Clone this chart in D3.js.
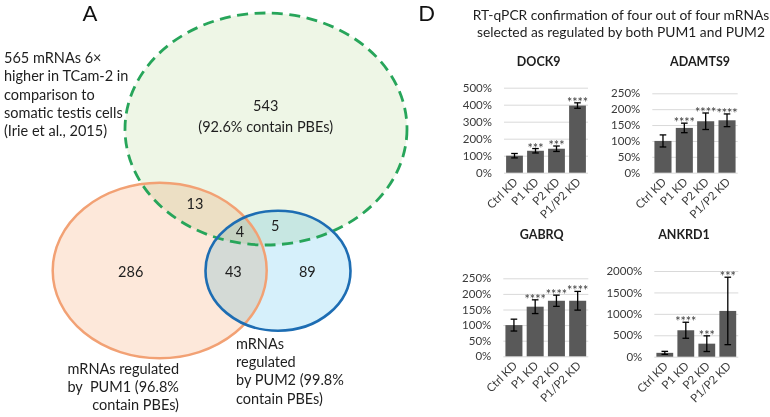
<!DOCTYPE html>
<html><head><meta charset="utf-8">
<script src="https://cdn.jsdelivr.net/npm/d3@7"></script>
<style>
html,body{margin:0;padding:0;background:#fff;}
svg{display:block;font-family:Lato,"Open Sans",sans-serif;}
</style></head>
<body>
<svg id="c" width="770" height="417"></svg>
<script>
// ---------- DATA ----------
const categories = ["Ctrl KD", "P1 KD", "P2 KD", "P1/P2 KD"];
const genes = ["DOCK9", "ADAMTS9", "GABRQ", "ANKRD1"];

const dock9Values = [100, 129, 141, 395];
const dock9Errors = [13, 13, 16, 16];
const dock9Stars = ["", "***", "***", "****"];
const dock9Ticks = [0, 100, 200, 300, 400, 500];

const adamts9Values = [100, 141, 162, 165];
const adamts9Errors = [19, 15, 26, 20];
const adamts9Stars = ["", "****", "****", "****"];
const adamts9Ticks = [0, 50, 100, 150, 200, 250];

const gabrqValues = [100, 159, 178, 178];
const gabrqErrors = [19, 22, 18, 30];
const gabrqStars = ["", "****", "****", "****"];
const gabrqTicks = [0, 50, 100, 150, 200, 250];

const ankrd1Values = [90, 617, 304, 1068];
const ankrd1Errors = [35, 187, 183, 787];
const ankrd1Stars = ["", "****", "***", "***"];
const ankrd1Ticks = [0, 500, 1000, 1500, 2000];

const vennSets = ["TCam-2 high", "PUM1", "PUM2"];
const vennCounts = ["543", "13", "4", "5", "286", "43", "89"];

const titleLines = ["RT-qPCR confirmation of four out of four mRNAs",
                    "selected as regulated by both PUM1 and PUM2"];

// ---------- LAYOUT ----------
const svg = d3.select("#c");
const txt = "#1e1e1e";

// Venn
const venn = svg.append("g");
const ellipses = [
  {cx: 266, cy: 129, rx: 141, ry: 116, fill: "#eef6e6", stroke: "#27a55a", dash: "11,6.5", w: 2.8},
  {cx: 159.7, cy: 270.5, rx: 107, ry: 87.8, fill: "#fde8da", stroke: "#f2a174", dash: null, w: 2.5},
  {cx: 278, cy: 270.7, rx: 72.5, ry: 60, fill: "#d6f0fb", stroke: "#1d6db3", dash: null, w: 2.6}
];
venn.selectAll("ellipse.f").data(ellipses).join("ellipse").attr("class", "f")
  .attr("cx", d => d.cx).attr("cy", d => d.cy).attr("rx", d => d.rx).attr("ry", d => d.ry)
  .attr("fill", d => d.fill).style("mix-blend-mode", "multiply");
const strokeOrder = [ellipses[1], ellipses[0], ellipses[2]];
venn.selectAll("ellipse.s").data(strokeOrder).join("ellipse").attr("class", "s")
  .attr("cx", d => d.cx).attr("cy", d => d.cy).attr("rx", d => d.rx).attr("ry", d => d.ry)
  .attr("fill", "none").attr("stroke", d => d.stroke).attr("stroke-width", d => d.w)
  .attr("stroke-dasharray", d => d.dash);

const vennPos = [[265.7, 106], [195, 204.3], [240, 231.7], [275.3, 226], [130.7, 272], [233.3, 272], [307.3, 272]];
venn.selectAll("text.n").data(vennCounts).join("text").attr("class", "n")
  .attr("x", (d, i) => vennPos[i][0]).attr("y", (d, i) => vennPos[i][1])
  .attr("dy", "0.35em").attr("text-anchor", "middle").attr("font-size", 14.5).attr("fill", txt).text(d => d);
venn.append("text").attr("x", 265.7).attr("y", 127.3).attr("dy", "0.35em").attr("text-anchor", "middle")
  .attr("font-size", 14.5).attr("fill", txt).text("(92.6% contain PBEs)");

function lines(g, arr, x, y0, step, anchor) {
  arr.forEach((s, i) => g.append("text").attr("x", x).attr("y", y0 + i * step).attr("dy", "0.35em")
    .attr("text-anchor", anchor).attr("font-size", 14.5).attr("fill", txt).attr("xml:space", "preserve").text(s));
}
lines(venn, ["565 mRNAs 6×", "higher in TCam-2 in", "comparison to", "somatic testis cells", "(Irie et al., 2015)"], 4, 58.3, 18.1, "start");
lines(venn, ["mRNAs regulated", "by  PUM1 (96.8%", "contain PBEs)"], 179, 369.3, 18, "end");
lines(venn, ["mRNAs", "regulated", "by PUM2 (99.8%", "contain PBEs)"], 236, 344, 18.2, "start");

svg.append("text").attr("x", 90).attr("y", 13.5).attr("dy", "0.35em").attr("text-anchor", "middle")
  .attr("font-size", 22).attr("fill", "#111").text("A");
svg.append("text").attr("x", 426.7).attr("y", 13.5).attr("dy", "0.35em").attr("text-anchor", "middle")
  .attr("font-size", 22).attr("fill", "#111").text("D");

// Title
titleLines.forEach((s, i) => svg.append("text").attr("x", 621).attr("y", 15 + i * 16.7).attr("dy", "0.35em")
  .attr("text-anchor", "middle").attr("font-size", 13.8).attr("fill", txt).text(s));

// Bar panels
const panels = [
  {gene: genes[0], values: dock9Values, errors: dock9Errors, stars: dock9Stars, ticks: dock9Ticks,
   x: [504, 588], y: [172.7, 87.7], titleX: 538.7, titleY: 61.7},
  {gene: genes[1], values: adamts9Values, errors: adamts9Errors, stars: adamts9Stars, ticks: adamts9Ticks,
   x: [652.3, 737.7], y: [172.7, 93.3], titleX: 700, titleY: 61.7},
  {gene: genes[2], values: gabrqValues, errors: gabrqErrors, stars: gabrqStars, ticks: gabrqTicks,
   x: [503.3, 588.3], y: [356.3, 278.3], titleX: 541.7, titleY: 235},
  {gene: genes[3], values: ankrd1Values, errors: ankrd1Errors, stars: ankrd1Stars, ticks: ankrd1Ticks,
   x: [654.3, 738.3], y: [356.7, 271], titleX: 684, titleY: 235}
];

panels.forEach(p => {
  const g = svg.append("g");
  const x = d3.scaleBand().domain(categories).range(p.x).paddingInner(0.2).paddingOuter(0.1);
  const y = d3.scaleLinear().domain([0, d3.max(p.ticks)]).range(p.y);
  const ax = g.append("g").attr("transform", `translate(${p.x[0]},0)`)
    .call(d3.axisLeft(y).tickValues(p.ticks).tickSize(-(p.x[1] - p.x[0])).tickPadding(12).tickFormat(d => d + "%"));
  ax.select(".domain").remove();
  ax.selectAll("line").attr("stroke", "#d9d9d9").attr("stroke-width", 1);
  ax.selectAll("text").attr("font-size", 11.5).attr("fill", "#3a3a3a").attr("font-family", "Lato");

  const data = categories.map((c, i) => ({c, v: p.values[i], e: p.errors[i], s: p.stars[i]}));
  g.selectAll("rect").data(data).join("rect")
    .attr("x", d => x(d.c)).attr("width", x.bandwidth())
    .attr("y", d => y(d.v)).attr("height", d => y(0) - y(d.v)).attr("fill", "#595959");
  const eb = g.selectAll("g.eb").data(data).join("g").attr("class", "eb");
  const cx = d => x(d.c) + x.bandwidth() / 2;
  eb.append("line").attr("x1", cx).attr("x2", cx).attr("y1", d => y(d.v + d.e)).attr("y2", d => y(d.v - d.e))
    .attr("stroke", "#000").attr("stroke-width", 1.3);
  [1, -1].forEach(sg => eb.append("line").attr("x1", d => cx(d) - 3.3).attr("x2", d => cx(d) + 3.3)
    .attr("y1", d => y(d.v + sg * d.e)).attr("y2", d => y(d.v + sg * d.e))
    .attr("stroke", "#000").attr("stroke-width", 1.3));
  g.selectAll("text.st").data(data).join("text").attr("class", "st")
    .attr("x", cx).attr("y", d => y(d.v + d.e) + 4).attr("text-anchor", "middle")
    .attr("font-size", 12.5).attr("fill", "#3a3a3a").text(d => d.s);
  g.selectAll("text.xl").data(categories).join("text").attr("class", "xl")
    .attr("transform", d => `translate(${x(d) + x.bandwidth() / 2 + 4},${y(0) + 10}) rotate(-45)`)
    .attr("text-anchor", "end").attr("font-size", 11.5).attr("fill", "#3a3a3a").text(d => d);
  g.append("text").attr("x", p.titleX).attr("y", p.titleY).attr("dy", "0.35em").attr("text-anchor", "middle")
    .attr("font-size", 12.5).attr("font-weight", "bold").attr("fill", txt).text(p.gene);
});
</script>
</body></html>
